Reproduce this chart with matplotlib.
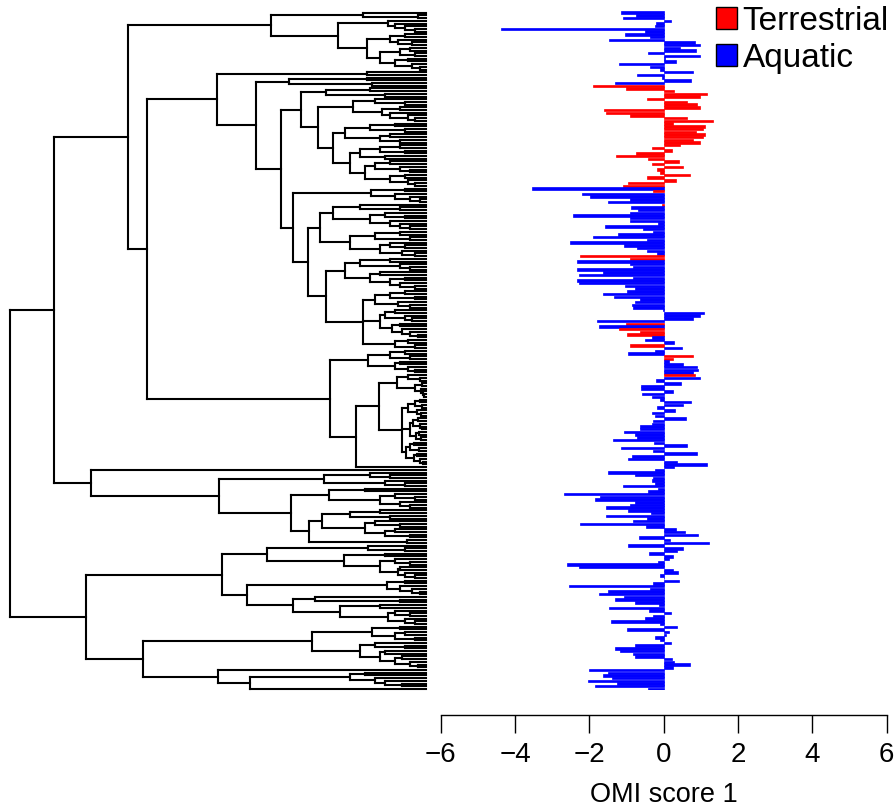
import numpy as np
import matplotlib.pyplot as plt
from matplotlib.collections import LineCollection
from matplotlib.patches import Patch

plt.rcParams['font.family'] = ['Liberation Sans', 'DejaVu Sans']

# OMI score 1 of each species, top to bottom in tree order
omi = [-1.16, -0.74, -1.10, 0.19, -0.20, -0.23, -4.38, -0.50, -1.04, -0.37,
       -1.46, 0.84, 0.98, 0.44, 0.87, -0.41, 0.98, 0.03, 0.33, -1.19,
       -0.37, -0.10, 0.80, -0.71, -0.05, 0.73, -1.31, -1.91, -1.01, 0.28,
       1.17, 0.98, -0.46, 0.62, 0.89, 0.98, -1.60, -1.55, -0.92, 0.62,
       1.32, 0.26, 1.11, 1.05, 0.87, 1.11, 1.07, 0.80, 0.98, 0.44,
       -0.32, 0.21, -0.74, -1.28, -0.41, 0.42, -0.32, 0.53, -0.17, -0.10,
       0.71, -0.46, 0.33, -0.95, -1.10, -3.55, -0.28, -2.20, -1.98, -0.90,
       -1.51, -0.05, -0.89, -0.68, -0.90, -2.43, -0.90, -0.90, -0.14, -1.58,
       -0.55, -0.28, -1.22, -1.89, -0.46, -2.52, -1.07, -0.73, -0.46, -0.19,
       -2.25, -0.90, -2.34, -0.90, -0.82, -2.34, -1.62, -2.29, -0.82, -2.32,
       -2.29, -1.04, -0.77, -0.99, -1.64, -1.33, -0.64, -0.77, -0.86, -0.83,
       -0.02, 1.08, 0.98, 0.80, -1.80, -1.01, -1.73, -1.20, -0.64, -1.00,
       -0.32, -0.50, 0.29, -0.90, 0.50, -0.23, -0.97, 0.80, 0.26, 0.15,
       0.53, 0.89, 0.93, 0.80, 0.84, 0.99, -0.21, 0.46, -0.62, -0.62,
       0.24, -0.59, -0.32, -0.10, 0.73, 0.53, -0.19, 0.30, -0.32, -0.23,
       0.60, -0.28, -0.32, -0.64, -0.65, -1.07, -0.77, -0.73, -1.37, -0.26,
       0.62, -1.16, -0.30, 0.89, -0.86, -0.95, 0.35, 1.17, 0.28, -0.23,
       -1.49, -0.77, -0.28, -0.32, -0.23, -1.10, -0.16, -0.41, -2.68, -1.71,
       -1.85, -0.77, -0.90, -1.55, -0.95, -0.34, -1.55, -0.46, -0.82, -2.25,
       -0.47, 0.33, 0.57, 0.93, -0.66, 0.17, 1.23, -0.95, 0.53, 0.35,
       -0.39, 0.26, 0.15, -0.14, -2.61, -2.27, 0.24, 0.39, -0.10, 0.02,
       0.41, -0.28, -2.56, -0.37, -1.51, -1.73, -1.07, -1.31, -0.77, -0.12,
       -1.46, -0.39, 0.19, -0.28, -0.50, -1.42, -0.10, 0.35, -0.98, 0.13,
       0.06, -0.23, -0.10, 0.19, -0.77, -1.31, -1.17, -0.82, -0.77, 0.22,
       0.28, 0.71, 0.24, -2.00, -1.49, -1.62, -1.40, -2.05, -1.26, -1.85,
       -0.41]

# species that are terrestrial (row numbers), all others aquatic
terrestrial = list(range(27, 65)) + [66, 71, 90, 91, 115, 117, 118, 119, 123, 127, 128, 134]

# tree in parenthesis notation, internal node labels = distance from root
A1A = "((,(,)408)353,((,(,(,(,)405)395)385)378,(((,)395,(,(,)402)388)380,(((,)400,(,)405)390,((,)398,(,(,)410)402)385)370)357)328)261"
N326 = "((,)360,(,)375)316"
N353 = "((,(,)395)365,((,)390,(,(,(,)405)398)380)372)343"
N333 = "((((,)385,(,)395)360,((,)380,(,)390)370)335,((((,)390,(,)395)370,(,)375)350,(((,)380,(,(,)400)390)365,((,)395,(,(,)405)398)380)355)340)323"
N371 = "((,)395,(,(,(,)410)400)385)361"
N320 = "(((,(,)390)350,((,(,)395)375,(,(,(,)400)390)380)360)323,(((,)390,(,)400)365,((,(,)395)380,(,(,)405)392)370)340)310"
N326B = ("((((,)380,(,(,)400)390)350,((,)370,((,)395,(,(,)405)390)380)360)335,"
         "((((,)395,(,)405)380,(,(,)400)388)365,(((,)385,(,(,)402)395)375,((,)390,(,(,(,)408)400)392)382)370,((,)398,(,)405)385)353)316")
N289 = "((,)357,(,)362)279"
A1B_I = f"((,)357,({N289},(({N326},({N353},{N333})308)291,({N371},({N320},{N326B})298)283)271)246)207"
N358 = "(((,)395,(,)400)380,((,)390,(,(,)405)398)385)358"
N387 = "((,(,)410)398,((,)412,(,(,(,)414)413)411)405)387"
N392 = ("((((,)410,(,)412)405,(,(,)411)407)398,(((,)408,(,(,)412)410)403,((,)409,(,)411)406)400,"
        "(((,)404,(,)409)400,((,)407,(,(,)413)410)404)396)392")
A1B_II = f"({N358},(({N387},{N392})369,)346)320"
A1 = f"({A1A},({A1B_I},{A1B_II})137)118"
A2 = ("(,(((,(,)380)360,(,(,)395)375)314,(((,)355,((,(,)405)385,(,(,)400)390)370)319,"
      "((((,)370,(,)380)340,((,(,)390)365,((,)385,(,)400)375)355)312,(,)397)299)281)209)81")
B1 = ("(((,(,)395)358,((,)375,((,(,)400)385,((,)390,(,(,)405)395)388)370)334)257,"
      "(((,)395,(,(,(,)410)402)390)377,((,(,)390)305,((,)370,((,(,)400)385,(,(,)405)395)378)330)283)237)212")
B2 = ("((((,)390,((,)395,(,)405)385)362,((,(,)395)365,((,)375,((,)392,(,(,)408)400)385)370)350)302,"
      "(,(((,)355,(,(,(,)392)375)365)340,)240)208)133")
TREE = f"(({A1},{A2})44,({B1},{B2})76)0"
TIP = 416


def parse(s):
    pos = 0

    def node():
        nonlocal pos
        if s[pos] != '(':
            return None
        pos += 1
        kids = [node()]
        while s[pos] == ',':
            pos += 1
            kids.append(node())
        pos += 1
        start = pos
        while pos < len(s) and s[pos].isdigit():
            pos += 1
        return (float(s[start:pos]), kids)
    return node()


segs = []
count = [0]


def place(n):
    if n is None:
        i = count[0]
        count[0] += 1
        return TIP, i
    h, kids = n
    pts = [place(k) for k in kids]
    for x, y in pts:
        segs.append([(h, y), (x, y)])
    segs.append([(h, pts[0][1]), (h, pts[-1][1])])
    return h, (pts[0][1] + pts[-1][1]) / 2


place(parse(TREE))
n = len(omi)

fig = plt.figure(figsize=(8.96, 8.09), dpi=100)
bot = 1 - 690.3 / 809
hgt = (690.3 - 11.35) / 809

ax_t = fig.add_axes([9.5 / 896, bot, 416 / 896, hgt])
ax_t.add_collection(LineCollection(segs, colors='black', linewidths=1.5, capstyle='projecting', clip_on=False))
ax_t.set_xlim(0, TIP)
ax_t.set_ylim(n - 0.5, -0.5)
ax_t.axis('off')

ax = fig.add_axes([440.7 / 896, bot, 446 / 896, hgt])
cols = ['#ff0000' if i in terrestrial else '#0000ff' for i in range(n)]
ax.barh(np.arange(n), omi, height=0.9, color=cols, edgecolor=cols, linewidth=0.5)
ax.set_xlim(-6, 6)
ax.set_ylim(n - 0.5, -0.5)
for s in ['top', 'right', 'left']:
    ax.spines[s].set_visible(False)
ax.spines['bottom'].set_position(('outward', 17.8))
ax.spines['bottom'].set_linewidth(1.0)
ax.set_yticks([])
ax.set_xticks([-6, -4, -2, 0, 2, 4, 6])
ax.tick_params(axis='x', length=12.7, width=1.0, pad=7, labelsize=20)
ax.set_xlabel('OMI score 1', fontsize=19.5, labelpad=10)

handles = [Patch(facecolor='#ff0000', edgecolor='black'),
           Patch(facecolor='#0000ff', edgecolor='black')]
ax.legend(handles, ['Terrestrial', 'Aquatic'], loc='upper left',
          bbox_to_anchor=(716 / 896, 1 - 6 / 809), bbox_transform=fig.transFigure,
          frameon=False, fontsize=24, handlelength=0.62, handleheight=0.62,
          handletextpad=0.18, borderpad=0, borderaxespad=0, labelspacing=0.17)

fig.savefig('out.png', dpi=100)
